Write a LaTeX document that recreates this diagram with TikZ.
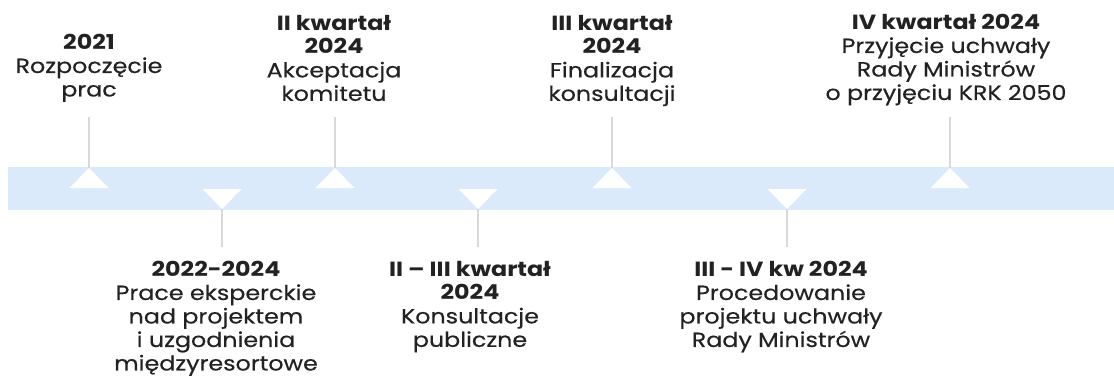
\documentclass[tikz,border=0pt]{standalone}
\usepackage{fontspec}
\setmainfont{Poppins}[FakeStretch=1.16,UprightFeatures={FakeBold=0.4}]
\definecolor{band}{HTML}{DAEAFB}
\definecolor{stem}{HTML}{D9D9D9}
\definecolor{ink}{HTML}{222222}
\begin{document}
\begin{tikzpicture}[x=1pt,y=-1pt,
  lbl/.style={align=center,text=ink,font=\fontsize{20.5}{23.5}\selectfont,inner sep=0pt,anchor=north},
  stemline/.style={draw=stem,line width=2.6pt},
  tri/.style={fill=white,draw=none}]
\useasboundingbox (0,0) rectangle (1114,378);
\fill[band] (8,167) rectangle (1114,210);
% up markers
\foreach \n/\x in {a/89,c/335,e/612,g/950}{
  \coordinate (\n top) at (\x,117);
  \coordinate (\n tip) at (\x,168);
  \draw[stemline] (\n top) -- (\n tip);
  \fill[tri] (\x,168) -- (\x+19.5,188) -- (\x-19.5,188) -- cycle;
}
% down markers
\foreach \n/\x in {b/222,d/478,f/787}{
  \coordinate (\n bot) at (\x,247);
  \coordinate (\n tip) at (\x,209);
  \draw[stemline] (\n tip) -- (\n bot);
  \fill[tri] (\x,209) -- (\x+19.5,189) -- (\x-19.5,189) -- cycle;
}
\node[lbl] (ta) at (89,34) {\textbf{2021}\\Rozpoczęcie\\prac};
\node[lbl] (tc) at (334,15) {\textbf{II kwartał}\\\textbf{2024}\\Akceptacja\\komitetu};
\node[lbl] (te) at (612,15) {\textbf{III kwartał}\\\textbf{2024}\\Finalizacja\\konsultacji};
\node[lbl] (tg) at (946,14) {\textbf{IV kwartał 2024}\\Przyjęcie uchwały\\Rady Ministrów\\o przyjęciu KRK 2050};
\node[lbl] (tb) at (216,261) {\textbf{2022-2024}\\Prace eksperckie\\nad projektem\\i uzgodnienia\\międzyresortowe};
\node[lbl] (td) at (470,261) {\textbf{II – III kwartał}\\\textbf{2024}\\Konsultacje\\publiczne};
\node[lbl] (tf) at (781,261) {\textbf{III - IV kw 2024}\\Procedowanie\\projektu uchwały\\Rady Ministrów};
\end{tikzpicture}
\end{document}
